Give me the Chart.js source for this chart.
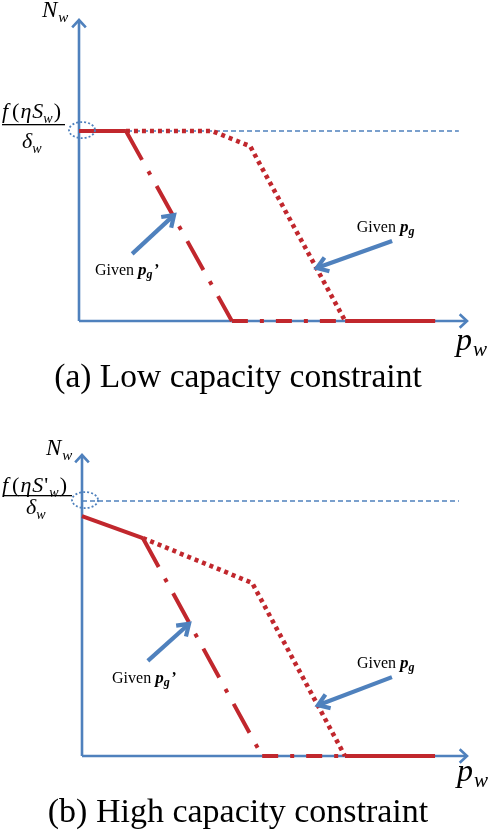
<!DOCTYPE html>
<html><head><meta charset="utf-8">
<script src="https://cdn.jsdelivr.net/npm/chart.js@4.4.1/dist/chart.umd.min.js"></script>
<style>
html,body{margin:0;padding:0;background:#fff}
#wrap{width:488px;height:832px}
canvas{display:block}
</style></head><body>
<div id="wrap"><canvas id="ca" width="488" height="416"></canvas><canvas id="cb" width="488" height="416"></canvas></div>
<script>
// axis units: x = p_w (0..100), y = N_w (0..100)
const capEnd=97.9;

// (a) low capacity constraint
const capA=63.1;
const aFlat=[[0,63.1],[12.1,63.1]];
const aDrop=[[12.1,63.1],[39.4,0]];
const aBaseDash=[[39.4,0],[68.6,0]];
const aBaseSolid=[[68.6,0],[91.8,0]];
const aDotted=[[12.1,63.1],[34.3,63.1],[44.1,58.1],[68.6,0]];
const aArrows=[[13.7,22.3,24.5,35.2],[80.7,26.6,61.3,17.6]];
const aNotes=[[4.1,15.3,true],[71.6,29.6,false]];

// (b) high capacity constraint
const capB=84.7;
const bFlat=[[0,79.7],[15.8,72.4]];
const bDrop=[[15.8,72.4],[46.8,0]];
const bBaseDash=[[46.8,0],[68.3,0]];
const bBaseSolid=[[68.3,0],[91.7,0]];
const bDotted=[[15.8,72.4],[44.2,57.5],[68.3,0]];
const bArrows=[[17.1,31.6,27.8,43.9],[80.5,26.2,61.3,16.9]];
const bNotes=[[7.8,24.3,true],[71.4,29.2,false]];

const RED='#c1272d', BLUE='#4f81bd', SERIF="'Liberation Serif', serif";
const pts=a=>a.map(p=>({x:p[0],y:p[1]}));

function runs(ctx,x,y,parts){
  parts.forEach(p=>{
    x+=p.dx||0;
    ctx.font=p.f;
    ctx.fillText(p.t,x,y+(p.dy||0));
    x+=ctx.measureText(p.t).width;
  });
  return x;
}
function head(ctx,tx,ty,ang,len,spr){
  ctx.beginPath();
  ctx.moveTo(tx-len*Math.cos(ang-spr),ty-len*Math.sin(ang-spr));
  ctx.lineTo(tx,ty);
  ctx.lineTo(tx-len*Math.cos(ang+spr),ty-len*Math.sin(ang+spr));
  ctx.stroke();
}

const axesPlugin={id:'axes',beforeDatasetsDraw(chart){
  const{ctx,scales:{x,y}}=chart;
  const x0=x.getPixelForValue(0),y0=y.getPixelForValue(0),x1=x.getPixelForValue(100),y1=y.getPixelForValue(100);
  ctx.save();
  ctx.strokeStyle=BLUE;ctx.lineWidth=2.6;ctx.lineCap='butt';ctx.lineJoin='miter';
  ctx.beginPath();ctx.moveTo(x0,y0);ctx.lineTo(x1-1,y0);ctx.moveTo(x0,y0);ctx.lineTo(x0,y1+1);ctx.stroke();
  head(ctx,x1,y0,0,10,0.75);
  head(ctx,x0,y1,-Math.PI/2,10,0.75);
  ctx.restore();
}};

const notesPlugin={id:'notes',afterDatasetsDraw(chart){
  const{ctx,scales:{x,y}}=chart;const o=chart.options.plugins.notes;
  const x0=x.getPixelForValue(0),cp=y.getPixelForValue(o.cap);
  ctx.save();
  // dotted ellipse at the cap level
  ctx.strokeStyle=BLUE;ctx.lineWidth=1.8;ctx.setLineDash([2,2]);
  ctx.beginPath();ctx.ellipse(x0+3,cp-1,13,8,0,0,Math.PI*2);ctx.stroke();
  ctx.setLineDash([]);
  // callout arrows
  ctx.lineWidth=4.2;ctx.lineCap='butt';
  o.arrows.forEach(a=>{
    const sx=x.getPixelForValue(a[0]),sy=y.getPixelForValue(a[1]),ex=x.getPixelForValue(a[2]),ey=y.getPixelForValue(a[3]);
    const ang=Math.atan2(ey-sy,ex-sx);
    ctx.beginPath();ctx.moveTo(sx,sy);ctx.lineTo(ex-2*Math.cos(ang),ey-2*Math.sin(ang));ctx.stroke();
    head(ctx,ex,ey,ang,13,0.6);
  });
  ctx.fillStyle='#000';ctx.textBaseline='alphabetic';ctx.textAlign='left';
  o.labels.forEach(l=>{
    const parts=[{t:'Given ',f:'16px '+SERIF},{t:'p',f:'bold italic 17px '+SERIF},{t:'g',f:'bold italic 12px '+SERIF,dy:3}];
    if(l[2]) parts.push({t:'’',f:'bold italic 16px '+SERIF,dx:1});
    runs(ctx,x.getPixelForValue(l[0]),y.getPixelForValue(l[1]),parts);
  });
  // axis names
  const t=o.text;
  runs(ctx,t.N[0],t.N[1],[{t:'N',f:'italic 23px '+SERIF},{t:'w',f:'italic 15px '+SERIF,dy:5,dx:1}]);
  runs(ctx,t.P[0],t.P[1],[{t:'p',f:'italic 32px '+SERIF},{t:'w',f:'italic 21px '+SERIF,dy:6,dx:1}]);
  // fraction label f(eta S_w)/delta_w
  const it='italic 22px '+SERIF,rg='22px '+SERIF,sb='italic 14px '+SERIF;
  const num=[{t:'f',f:it},{t:'(',f:rg,dx:4},{t:'η',f:it,dx:1},{t:'S',f:it,dx:1}];
  if(t.prime) num.push({t:"'",f:rg,dx:1},{t:'w',f:sb,dy:5,dx:1}); else num.push({t:'w',f:sb,dy:5});
  num.push({t:')',f:rg,dx:1});
  runs(ctx,t.num[0],t.num[1],num);
  ctx.fillStyle='#000';ctx.fillRect(t.bar[0],t.bar[2],t.bar[1]-t.bar[0],1.3);
  runs(ctx,t.den[0],t.den[1],[{t:'δ',f:it},{t:'w',f:sb,dy:5}]);
  // caption
  ctx.font=t.capSize+'px '+SERIF;ctx.textAlign='center';
  ctx.fillText(t.cap,t.capPos[0],t.capPos[1]);
  ctx.restore();
}};

function lineSet(data,dash,w){
  return {data:pts(data),borderColor:RED,borderWidth:w||4,borderDash:dash||[],borderCapStyle:'butt',borderJoinStyle:'miter',
    pointRadius:0,tension:0,fill:false,clip:false};
}

function makePanel(id,p){
  return new Chart(document.getElementById(id),{
    type:'line',
    data:{datasets:[
      lineSet(p.flat),
      lineSet(p.baseSolid),
      lineSet(p.drop,[33,13,4,13]),
      lineSet(p.baseDash,[16,12,4,12]),
      lineSet(p.dotted,[4,4],4.6),
      {data:pts([[0,p.cap],[capEnd,p.cap]]),borderColor:BLUE,borderWidth:1.5,borderDash:[5,3],pointRadius:0,fill:false,clip:false}
    ]},
    options:{
      responsive:false,animation:false,events:[],
      layout:{padding:p.pad},
      scales:{x:{type:'linear',min:0,max:100,display:false},y:{type:'linear',min:0,max:100,display:false}},
      plugins:{legend:{display:false},tooltip:{enabled:false},
        notes:{cap:p.cap,arrows:p.arrows,labels:p.notes,text:p.text}}
    },
    plugins:[axesPlugin,notesPlugin]
  });
}

makePanel('ca',{cap:capA,flat:aFlat,drop:aDrop,baseDash:aBaseDash,baseSolid:aBaseSolid,dotted:aDotted,
  arrows:aArrows,notes:aNotes,pad:{left:79,right:21,top:20,bottom:95},
  text:{N:[42,17],P:[456,350],num:[2,118],bar:[2,65,124],den:[22,148],prime:false,
    cap:'(a) Low capacity constraint',capSize:33.5,capPos:[238,387]}});
makePanel('cb',{cap:capB,flat:bFlat,drop:bDrop,baseDash:bBaseDash,baseSolid:bBaseSolid,dotted:bDotted,
  arrows:bArrows,notes:bNotes,pad:{left:82,right:21,top:39,bottom:76},
  text:{N:[46,39],P:[457,365],num:[2,76],bar:[3,72,79],den:[26,98],prime:true,
    cap:'(b) High capacity constraint',capSize:34,capPos:[238,406]}});
</script>
</body></html>
